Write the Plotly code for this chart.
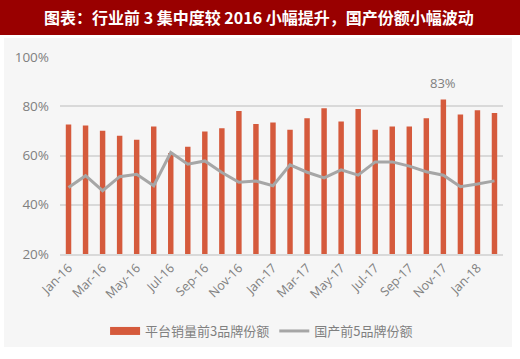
import plotly.graph_objects as go

months = ["Jan-16","Feb-16","Mar-16","Apr-16","May-16","Jun-16","Jul-16","Aug-16","Sep-16","Oct-16","Nov-16","Dec-16",
          "Jan-17","Feb-17","Mar-17","Apr-17","May-17","Jun-17","Jul-17","Aug-17","Sep-17","Oct-17","Nov-17","Dec-17",
          "Jan-18","Feb-18"]
top3_share = [72.6,72.2,70.1,68.0,66.4,71.8,61.0,63.6,69.7,71.1,78.1,72.8,
              73.4,70.5,75.1,79.2,73.8,78.9,70.5,71.8,71.8,75.1,82.7,76.6,78.4,77.3]
domestic_top5 = [47.0,51.8,45.7,51.4,52.4,47.7,61.2,56.5,57.8,53.1,49.1,49.6,
                 47.7,56.2,53.2,50.9,54.2,52.0,57.4,57.4,55.7,53.4,52.0,47.3,48.4,49.7]
tick_labels = months[::2]
y_ticks = [20,40,60,80,100]
y_tick_text = [f"{v}%" for v in y_ticks]

title_text = "图表：行业前 3 集中度较 2016 小幅提升，国产份额小幅波动"
bar_name = "平台销量前3品牌份额"
line_name = "国产前5品牌份额"

BAR_COLOR = "#d55a3c"
LINE_COLOR = "#a6a6a6"

W, H = 520, 359
L, R, T, B = 60, 17, 57, 105
pw, ph = W - L - R, H - T - B
def px(x): return (x - L) / pw
def py(y): return (H - B - y) / ph

fig = go.Figure()
fig.add_trace(go.Bar(x=months, y=top3_share, name=bar_name, marker_color=BAR_COLOR,
                     marker_line_width=0, showlegend=False))
fig.add_trace(go.Scatter(x=months, y=domestic_top5, name=line_name, mode="lines",
                         line=dict(color=LINE_COLOR, width=3), showlegend=False))
# legend entries (wide rectangle look like the original)
fig.add_trace(go.Scatter(x=[None], y=[None], name=bar_name, mode="lines",
                         line=dict(color=BAR_COLOR, width=8)))
fig.add_trace(go.Scatter(x=[None], y=[None], name=line_name, mode="lines",
                         line=dict(color=LINE_COLOR, width=3)))

fig.update_layout(
    width=W, height=H, margin=dict(l=L, r=R, t=T, b=B),
    paper_bgcolor="white", plot_bgcolor="rgba(0,0,0,0)",
    bargap=0.68, showlegend=True,
    font=dict(family="Noto Sans CJK SC, sans-serif", color="#808080"),
    legend=dict(orientation="h", x=0.455, xanchor="center", y=py(331), yanchor="middle",
                font=dict(size=13, color="#808080"), bgcolor="rgba(0,0,0,0)", itemwidth=30),
    xaxis=dict(type="category", tickmode="array", tickvals=tick_labels, ticktext=tick_labels,
               tickangle=-45, tickfont=dict(size=12.5, color="#808080", family="Open Sans, sans-serif"),
               showgrid=False, showline=True, linecolor="#d9d9d9", linewidth=1.5, ticks="",
               automargin=False, range=[-0.5, 25.5]),
    yaxis=dict(range=[20,100], tickmode="array", tickvals=y_ticks, ticktext=y_tick_text, showgrid=True,
               gridcolor="#d9d9d9", gridwidth=1.5, zeroline=False, automargin=False,
               ticklabelstandoff=10,
               tickfont=dict(size=13.5, color="#808080", family="Open Sans, sans-serif"), ticks=""),
    shapes=[
        dict(type="rect", xref="paper", yref="paper", x0=px(4), x1=px(512), y0=py(347), y1=py(38),
             fillcolor="#f6f6f6", line=dict(width=0), layer="below"),
        dict(type="rect", xref="paper", yref="paper", x0=px(0), x1=px(520), y0=py(35), y1=py(0),
             fillcolor="#990000", line=dict(width=0), layer="above"),
    ],
    annotations=[
        dict(text="<b>" + title_text + "</b>", xref="paper", yref="paper", x=px(259), y=py(17), showarrow=False,
             font=dict(size=16, color="white", family="Noto Sans CJK SC, sans-serif"),
             xanchor="center", yanchor="middle"),
        dict(text="83%", x=months[22], y=top3_share[22], yshift=6, showarrow=False,
             font=dict(size=13, color="#808080", family="Open Sans, sans-serif"), yanchor="bottom"),
    ],
)
fig.write_html("out.html", config={"displayModeBar": False},
               post_script="document.body.style.margin='0';document.body.style.overflow='hidden';")
